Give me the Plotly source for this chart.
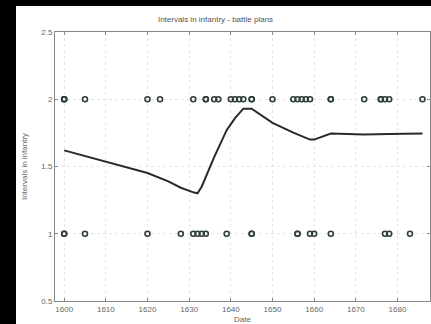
import plotly.graph_objects as go

# Observed data: battle plans with interval value 2 or 1
dates_two = [1600, 1600, 1600, 1605, 1620, 1623, 1631, 1634, 1634, 1636, 1637,
             1640, 1641, 1642, 1643, 1645, 1645, 1650, 1655, 1656, 1657, 1658,
             1659, 1664, 1664, 1672, 1676, 1676, 1677, 1678, 1686]
dates_one = [1600, 1600, 1605, 1620, 1628, 1631, 1632, 1633, 1634, 1639, 1645,
             1645, 1656, 1656, 1659, 1660, 1664, 1677, 1678, 1683]

# Smoothed trend line
trend_x = [1600, 1605, 1610, 1615, 1620, 1625, 1628, 1631, 1632, 1633, 1636,
           1639, 1641, 1643, 1645, 1650, 1655, 1659, 1660, 1664, 1672, 1678, 1686]
trend_y = [1.62, 1.578, 1.535, 1.493, 1.452, 1.39, 1.342, 1.308, 1.30, 1.35,
           1.57, 1.77, 1.86, 1.93, 1.93, 1.825, 1.752, 1.70, 1.70, 1.745,
           1.738, 1.742, 1.746]

x_ticks = [1600, 1610, 1620, 1630, 1640, 1650, 1660, 1670, 1680]
y_ticks = [0.5, 1, 1.5, 2, 2.5]

marker_style = dict(symbol="circle-open", size=5,
                    color="#2f3f3c", line=dict(width=1.6, color="#2f3f3c"))

fig = go.Figure()
fig.add_trace(go.Scatter(x=dates_two, y=[2] * len(dates_two), mode="markers",
                         marker=marker_style, showlegend=False))
fig.add_trace(go.Scatter(x=dates_one, y=[1] * len(dates_one), mode="markers",
                         marker=marker_style, showlegend=False))
fig.add_trace(go.Scatter(x=trend_x, y=trend_y, mode="lines",
                         line=dict(color="#2a2a2a", width=2), showlegend=False))

font_color = "#666666"
axis_common = dict(
    showline=True, linecolor="#888888", linewidth=1, mirror="allticks",
    ticks="inside", ticklen=3, tickcolor="#888888",
    showgrid=True, gridcolor="#e6e6e6", griddash="dot", gridwidth=1,
    zeroline=False, automargin=False,
    tickfont=dict(family="Liberation Sans, Arial", size=8, color=font_color),
)

fig.update_layout(
    width=431, height=324,
    margin=dict(l=55, r=1, t=32, b=23),
    paper_bgcolor="black",
    plot_bgcolor="white",
    title=dict(text="Intervals in infantry - battle plans",
               font=dict(family="Liberation Sans, Arial", size=8, color="#555555"),
               x=0.5, xanchor="center", y=1 - 19 / 324, yanchor="middle"),
    xaxis=dict(range=[1597.8, 1687.8], tickvals=x_ticks,
               title=dict(text="Date", standoff=7,
                          font=dict(family="Liberation Sans, Arial", size=8, color=font_color)),
               **axis_common),
    yaxis=dict(range=[0.5, 2.5], tickvals=y_ticks,
               title=dict(text="Intervals in infantry", standoff=12,
                          font=dict(family="Liberation Sans, Arial", size=8, color=font_color)),
               **axis_common),
    shapes=[dict(type="rect", xref="paper", yref="paper",
                 x0=(16 - 55) / 375, x1=1.2, y0=-0.3, y1=(301 - 6) / 269,
                 fillcolor="white", line=dict(width=0), layer="below")],
)

fig.write_html("out.html")
